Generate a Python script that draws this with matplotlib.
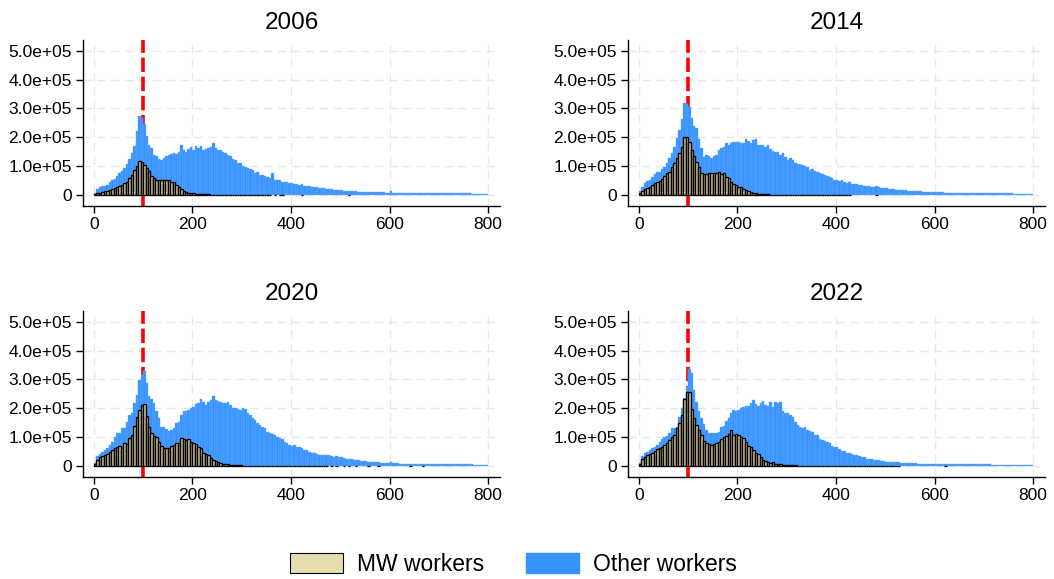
import numpy as np
import matplotlib
matplotlib.use('Agg')
import matplotlib.pyplot as plt
from matplotlib.patches import Patch

plt.rcParams['font.family'] = ['Liberation Sans', 'DejaVu Sans']

# bins of width 5 (left edges 0, 5, ..., 795); heights in units of 1e5 workers
years = ['2006', '2014', '2020', '2022']
bin_width = 5
bin_left = np.arange(0, 800, bin_width)
min_wage = 100

total_2006 = [
    0.07, 0.20, 0.27, 0.30, 0.32, 0.36, 0.47, 0.53, 0.55, 0.65,
    0.76, 0.85, 0.94, 1.09, 1.25, 1.46, 1.69, 2.21, 2.73, 2.67,
    2.47, 2.03, 1.74, 1.63, 1.40, 1.34, 1.25, 1.20, 1.28, 1.34,
    1.40, 1.43, 1.46, 1.43, 1.51, 1.74, 1.57, 1.51, 1.60, 1.66,
    1.57, 1.69, 1.63, 1.71, 1.55, 1.60, 1.63, 1.66, 1.80, 1.63,
    1.57, 1.55, 1.48, 1.46, 1.40, 1.34, 1.25, 1.22, 1.11, 1.11,
    1.00, 0.97, 0.94, 0.90, 0.88, 0.76, 0.79, 0.70, 0.70, 0.65,
    0.62, 0.59, 0.76, 0.53, 0.53, 0.51, 0.47, 0.44, 0.44, 0.42,
    0.42, 0.39, 0.38, 0.36, 0.39, 0.33, 0.30, 0.30, 0.28, 0.27,
    0.28, 0.24, 0.23, 0.23, 0.21, 0.21, 0.21, 0.19, 0.17, 0.17,
    0.19, 0.15, 0.15, 0.14, 0.14, 0.13, 0.13, 0.12, 0.12, 0.12,
    0.11, 0.11, 0.10, 0.10, 0.10, 0.10, 0.10, 0.10, 0.09, 0.09,
    0.13, 0.09, 0.09, 0.09, 0.08, 0.08, 0.08, 0.08, 0.08, 0.08,
    0.08, 0.07, 0.07, 0.07, 0.07, 0.07, 0.07, 0.07, 0.07, 0.06,
    0.07, 0.06, 0.06, 0.06, 0.06, 0.06, 0.06, 0.06, 0.06, 0.06,
    0.06, 0.06, 0.06, 0.05, 0.05, 0.05, 0.05, 0.05, 0.05, 0.05,
]
mw_2006 = [
    0.03, 0.07, 0.09, 0.12, 0.14, 0.16, 0.19, 0.22, 0.25, 0.28,
    0.30, 0.35, 0.42, 0.47, 0.59, 0.69, 0.86, 1.00, 1.17, 1.13,
    1.05, 0.94, 0.82, 0.67, 0.59, 0.53, 0.51, 0.52, 0.51, 0.53,
    0.51, 0.47, 0.44, 0.36, 0.28, 0.21, 0.14, 0.10, 0.08, 0.07,
    0.06, 0.05, 0.04, 0.04, 0.03, 0.03, 0.03, 0.02, 0.02, 0.02,
    0.02, 0.01, 0.01, 0.01, 0.01, 0.01, 0.01, 0.01, 0.01, 0.01,
    0.01, 0.01, 0.01, 0.01, 0.01, 0.01, 0.01, 0.01, 0.01, 0.01,
    0.01, 0.01, 0, 0.01, 0, 0.01, 0.01, 0, 0, 0,
    0, 0, 0, 0, 0.01, 0, 0, 0, 0, 0,
    0, 0, 0, 0, 0, 0, 0, 0, 0, 0,
    0, 0, 0, 0.01, 0, 0, 0, 0, 0, 0,
    0, 0, 0, 0, 0, 0, 0, 0, 0, 0,
    0, 0, 0, 0, 0, 0, 0, 0, 0, 0,
    0, 0, 0, 0, 0, 0, 0, 0, 0, 0,
    0, 0, 0, 0, 0, 0, 0, 0, 0, 0,
    0, 0, 0, 0, 0, 0, 0, 0, 0, 0,
]

total_2014 = [
    0.14, 0.29, 0.43, 0.50, 0.54, 0.64, 0.73, 0.80, 0.80, 0.89,
    0.98, 1.12, 1.27, 1.47, 1.67, 1.96, 2.27, 2.62, 3.18, 3.15,
    3.04, 2.66, 2.39, 2.34, 1.93, 1.62, 1.33, 1.39, 1.35, 1.30,
    1.35, 1.39, 1.56, 1.62, 1.67, 1.79, 1.73, 1.81, 1.84, 1.84,
    1.84, 1.79, 1.79, 1.95, 1.88, 1.81, 1.90, 1.93, 1.73, 1.72,
    1.73, 1.67, 1.73, 1.58, 1.54, 1.49, 1.50, 1.39, 1.47, 1.33,
    1.21, 1.28, 1.21, 1.12, 1.07, 1.07, 1.04, 1.00, 0.98, 0.87,
    0.89, 0.84, 0.81, 0.75, 0.73, 0.69, 0.66, 0.64, 0.59, 0.54,
    0.54, 0.50, 0.54, 0.46, 0.43, 0.46, 0.40, 0.40, 0.38, 0.35,
    0.35, 0.32, 0.31, 0.30, 0.29, 0.29, 0.31, 0.27, 0.26, 0.25,
    0.25, 0.21, 0.21, 0.20, 0.19, 0.18, 0.18, 0.17, 0.17, 0.16,
    0.15, 0.14, 0.14, 0.13, 0.13, 0.12, 0.12, 0.11, 0.11, 0.11,
    0.12, 0.10, 0.10, 0.10, 0.09, 0.09, 0.09, 0.09, 0.08, 0.08,
    0.08, 0.08, 0.08, 0.07, 0.07, 0.07, 0.07, 0.07, 0.07, 0.07,
    0.07, 0.06, 0.06, 0.06, 0.06, 0.06, 0.06, 0.06, 0.06, 0.06,
    0.06, 0.06, 0.05, 0.05, 0.05, 0.05, 0.05, 0.05, 0.05, 0.05,
]
mw_2014 = [
    0.06, 0.15, 0.20, 0.24, 0.29, 0.35, 0.43, 0.44, 0.50, 0.57,
    0.66, 0.75, 0.81, 0.96, 1.12, 1.27, 1.47, 1.67, 2.02, 2.02,
    1.85, 1.56, 1.35, 1.15, 0.98, 0.75, 0.73, 0.73, 0.75, 0.75,
    0.77, 0.77, 0.80, 0.73, 0.75, 0.64, 0.58, 0.46, 0.40, 0.35,
    0.29, 0.27, 0.20, 0.17, 0.15, 0.10, 0.08, 0.06, 0.05, 0.04,
    0.04, 0.03, 0.03, 0.02, 0.02, 0.02, 0.02, 0.02, 0.02, 0.02,
    0.01, 0.01, 0.01, 0.01, 0.01, 0.01, 0.01, 0.01, 0.01, 0.01,
    0.01, 0.01, 0.01, 0.01, 0.01, 0.01, 0.01, 0.01, 0.01, 0.01,
    0.01, 0.01, 0.01, 0.01, 0.01, 0.01, 0, 0, 0, 0,
    0, 0, 0, 0, 0, 0, 0.01, 0, 0, 0,
    0, 0, 0, 0, 0, 0, 0, 0, 0, 0,
    0, 0, 0, 0, 0, 0, 0, 0, 0, 0,
    0, 0, 0, 0, 0, 0, 0, 0, 0, 0,
    0, 0, 0, 0, 0, 0, 0, 0, 0, 0,
    0, 0, 0, 0, 0, 0, 0, 0, 0, 0,
    0, 0, 0, 0, 0, 0, 0, 0, 0, 0,
]

total_2020 = [
    0.12, 0.35, 0.42, 0.50, 0.56, 0.61, 0.73, 0.84, 1.00, 1.13,
    1.16, 1.31, 1.33, 1.54, 1.77, 1.83, 2.18, 2.47, 2.99, 3.16,
    3.28, 2.87, 2.41, 2.31, 2.18, 1.89, 1.66, 1.37, 1.34, 1.27,
    1.22, 1.25, 1.31, 1.48, 1.54, 1.77, 1.89, 1.92, 1.94, 2.00,
    2.06, 2.15, 2.18, 2.31, 2.23, 2.12, 2.23, 2.29, 2.44, 2.29,
    2.25, 2.23, 2.18, 2.18, 2.23, 2.12, 2.00, 2.00, 1.97, 1.94,
    2.00, 1.97, 1.83, 1.77, 1.66, 1.60, 1.48, 1.42, 1.37, 1.31,
    1.19, 1.16, 1.11, 1.08, 1.00, 0.96, 0.93, 0.84, 0.79, 0.73,
    0.69, 0.72, 0.67, 0.67, 0.61, 0.56, 0.56, 0.50, 0.46, 0.44,
    0.42, 0.40, 0.38, 0.37, 0.37, 0.38, 0.35, 0.32, 0.35, 0.30,
    0.32, 0.27, 0.26, 0.24, 0.23, 0.22, 0.20, 0.20, 0.18, 0.17,
    0.16, 0.15, 0.14, 0.14, 0.13, 0.13, 0.12, 0.12, 0.11, 0.11,
    0.13, 0.10, 0.10, 0.10, 0.09, 0.09, 0.09, 0.09, 0.08, 0.08,
    0.08, 0.08, 0.08, 0.08, 0.07, 0.07, 0.07, 0.07, 0.07, 0.07,
    0.07, 0.07, 0.06, 0.06, 0.06, 0.06, 0.06, 0.06, 0.06, 0.06,
    0.06, 0.06, 0.06, 0.06, 0.05, 0.05, 0.05, 0.05, 0.05, 0.05,
]
mw_2020 = [
    0.07, 0.21, 0.30, 0.35, 0.38, 0.42, 0.50, 0.56, 0.61, 0.67,
    0.69, 0.64, 0.79, 0.76, 0.96, 1.08, 1.39, 1.71, 1.94, 2.12,
    2.15, 1.74, 1.34, 1.13, 1.05, 1.00, 0.82, 0.69, 0.64, 0.61,
    0.64, 0.69, 0.73, 0.79, 0.81, 0.96, 0.93, 0.90, 0.93, 0.84,
    0.79, 0.76, 0.67, 0.61, 0.46, 0.42, 0.38, 0.27, 0.21, 0.19,
    0.15, 0.12, 0.09, 0.07, 0.06, 0.05, 0.04, 0.04, 0.03, 0.03,
    0.02, 0.02, 0.02, 0.02, 0.02, 0.02, 0.02, 0.02, 0.02, 0.02,
    0.02, 0.02, 0.02, 0.02, 0.02, 0.01, 0.01, 0.01, 0.01, 0.01,
    0.01, 0.01, 0.01, 0.01, 0.01, 0.01, 0.01, 0.01, 0.01, 0.01,
    0.01, 0.01, 0.01, 0.01, 0.01, 0, 0.01, 0, 0.01, 0,
    0, 0.01, 0, 0.01, 0, 0, 0.01, 0, 0, 0,
    0, 0.01, 0, 0, 0, 0.01, 0, 0, 0, 0,
    0, 0, 0, 0, 0, 0, 0, 0, 0.01, 0,
    0, 0, 0, 0.01, 0, 0, 0, 0, 0, 0,
    0, 0, 0, 0, 0, 0, 0, 0, 0, 0,
    0, 0, 0, 0, 0, 0, 0, 0, 0, 0,
]

total_2022 = [
    0.12, 0.35, 0.46, 0.50, 0.56, 0.61, 0.67, 0.73, 0.84, 0.93,
    1.02, 1.04, 1.13, 1.31, 1.33, 1.34, 1.71, 2.00, 2.35, 2.75,
    3.36, 3.22, 2.64, 2.23, 1.89, 1.66, 1.46, 1.25, 1.13, 1.13,
    1.13, 1.16, 1.19, 1.34, 1.39, 1.57, 1.66, 1.83, 1.94, 1.89,
    1.94, 2.00, 2.06, 2.08, 2.08, 2.18, 2.29, 2.15, 2.08, 2.18,
    2.27, 2.12, 2.08, 2.23, 2.06, 2.23, 2.18, 2.23, 1.89, 1.83,
    1.85, 1.77, 1.71, 1.54, 1.42, 1.37, 1.31, 1.37, 1.25, 1.23,
    1.19, 1.08, 1.08, 0.93, 0.90, 0.87, 0.84, 0.79, 0.69, 0.67,
    0.65, 0.58, 0.53, 0.53, 0.46, 0.44, 0.42, 0.38, 0.38, 0.35,
    0.32, 0.30, 0.25, 0.23, 0.23, 0.21, 0.21, 0.20, 0.19, 0.16,
    0.15, 0.15, 0.14, 0.14, 0.13, 0.13, 0.12, 0.12, 0.11, 0.11,
    0.10, 0.10, 0.10, 0.09, 0.09, 0.09, 0.09, 0.08, 0.08, 0.08,
    0.09, 0.08, 0.08, 0.08, 0.07, 0.07, 0.07, 0.07, 0.07, 0.07,
    0.07, 0.06, 0.06, 0.06, 0.06, 0.06, 0.06, 0.06, 0.06, 0.06,
    0.06, 0.06, 0.06, 0.05, 0.05, 0.05, 0.05, 0.05, 0.05, 0.05,
    0.05, 0.05, 0.05, 0.05, 0.05, 0.05, 0.05, 0.05, 0.05, 0.05,
]
mw_2022 = [
    0.09, 0.23, 0.30, 0.37, 0.42, 0.46, 0.53, 0.58, 0.61, 0.67,
    0.73, 0.81, 0.90, 1.00, 1.08, 1.31, 1.50, 1.77, 2.31, 2.58,
    2.55, 1.97, 1.66, 1.42, 1.25, 1.08, 0.87, 0.81, 0.76, 0.73,
    0.76, 0.81, 0.84, 0.93, 1.02, 1.04, 1.11, 1.25, 1.08, 1.11,
    1.08, 1.02, 0.96, 0.84, 0.69, 0.65, 0.56, 0.46, 0.42, 0.32,
    0.21, 0.19, 0.15, 0.12, 0.15, 0.09, 0.09, 0.07, 0.05, 0.04,
    0.04, 0.03, 0.03, 0.03, 0.02, 0.02, 0.02, 0.02, 0.02, 0.02,
    0.02, 0.02, 0.02, 0.02, 0.02, 0.02, 0.02, 0.02, 0.02, 0.02,
    0.01, 0.01, 0.01, 0.01, 0.01, 0.01, 0.01, 0.01, 0.01, 0.01,
    0.01, 0.01, 0.01, 0.01, 0.01, 0.01, 0.01, 0.01, 0.01, 0.01,
    0.01, 0.01, 0.01, 0.01, 0.01, 0.01, 0, 0, 0, 0,
    0, 0, 0, 0, 0, 0, 0, 0, 0, 0,
    0, 0, 0, 0, 0.01, 0, 0, 0, 0, 0,
    0, 0, 0, 0, 0, 0, 0, 0, 0, 0,
    0, 0, 0, 0, 0, 0, 0, 0, 0, 0,
    0, 0, 0, 0, 0, 0, 0, 0, 0, 0,
]

totals = [total_2006, total_2014, total_2020, total_2022]
mws = [mw_2006, mw_2014, mw_2020, mw_2022]
scale = 1e5

blue = '#3592ff'
beige = '#e8dead'

fig = plt.figure(figsize=(10.54, 5.79), dpi=100)
positions = [
    (0.0787, 0.644, 0.3956, 0.287),
    (0.5958, 0.644, 0.3956, 0.287),
    (0.0787, 0.176, 0.3956, 0.287),
    (0.5958, 0.176, 0.3956, 0.287),
]

yticks = np.arange(0, 6) * 1e5
ylabels = ['0'] + ['%.1fe+05' % (t / 1e5) for t in yticks[1:]]

for year, total, mw, pos in zip(years, totals, mws, positions):
    ax = fig.add_axes(pos)
    total = np.array(total) * scale
    mw = np.array(mw) * scale
    ax.axvline(min_wage, color='red', lw=2.6, dashes=(4, 1.3), zorder=1)
    ax.bar(bin_left, total, width=bin_width, align='edge', color=blue,
           edgecolor='#6aaeff', linewidth=0.3, zorder=2)
    keep = mw > 0
    # thin bars: dark outlines dominate, as in the original
    ax.bar(bin_left[keep], mw[keep], width=bin_width, align='edge', color='#c9bd8e',
           edgecolor='black', linewidth=0.95, zorder=3)

    ax.set_xlim(-22, 824)
    ax.set_ylim(-0.38e5, 5.37e5)
    ax.set_xticks([0, 200, 400, 600, 800])
    ax.set_yticks(yticks)
    ax.set_yticklabels(ylabels)
    ax.grid(True, color='#e8e8e8', linestyle=(0, (6, 4)), linewidth=1)
    ax.set_axisbelow(True)
    for side in ['top', 'right']:
        ax.spines[side].set_visible(False)
    for side in ['left', 'bottom']:
        ax.spines[side].set_linewidth(1)
    ax.tick_params(direction='out', length=5, width=1, labelsize=12.5, pad=3)
    ax.set_title(year, fontsize=17.5, pad=8)

handles = [
    Patch(facecolor=beige, edgecolor='black', linewidth=0.8, label='MW workers'),
    Patch(facecolor=blue, edgecolor=blue, label='Other workers'),
]
fig.legend(handles=handles, loc='lower center', bbox_to_anchor=(0.487, -0.03), ncol=2,
           frameon=False, fontsize=16.5, handlelength=2.35, handleheight=1.0,
           columnspacing=1.8, handletextpad=0.6)

fig.savefig('out.png', dpi=100)
